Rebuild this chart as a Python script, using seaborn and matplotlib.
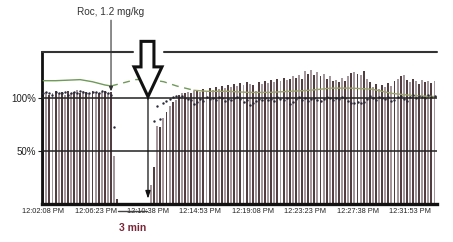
import numpy as np
import pandas as pd
import matplotlib
matplotlib.use("Agg")
import matplotlib.pyplot as plt
from matplotlib.patches import Polygon
import seaborn as sns

# ---------------- data ----------------
interval_s = 15
seg1_start = 0
seg1_height = [104, 105, 103, 104, 106, 104, 105, 103, 106, 104, 105, 107, 104, 106,
               105, 104, 106, 105, 104, 105, 106, 104, 105, 45, 5]
seg1_ratio = [104, 105, 104, 103, 105, 104, 104, 105, 103, 104, 105, 104, 106, 105,
              104, 104, 105, 105, 104, 106, 105, 104, 103, 72, np.nan]
seg2_start = 35
seg2_height = [18, 35, 73, 72, 81, 87, 92, 96, 98, 103, 104, 104, 105, 104, 106, 107,
               105, 108, 106, 109, 107, 110, 108, 111, 109, 112, 110, 113, 111, 114,
               112, 115, 113, 112, 106, 115, 113, 116, 114, 117, 115, 118, 116, 119,
               117, 118, 120, 119, 121, 118, 125, 122, 126, 121, 124, 120, 122, 118,
               120, 116, 117, 115, 119, 116, 120, 123, 124, 122, 121, 125, 118, 115,
               110, 113, 108, 112, 110, 114, 111, 116, 118, 120, 121, 117, 115, 118,
               116, 113, 117, 115, 116, 114, 116]
seg2_ratio = [np.nan, 78, 92, 80, 95, 97, 99, 101, 102, 101, 102, 100, 99, 98, 94, 96,
              99, 97, 101, 99, 100, 98, 101, 100, 97, 99, 98, 100, 101, 99, 96, 98,
              93, 95, 97, 99, 98, 100, 98, 99, 97, 101, 99, 98, 100, 94, 96, 99, 101,
              98, 100, 97, 99, 100, 98, 97, 99, 101, 100, 98, 100, 99, 101, 100, 97,
              95, 95, 96, 95, 96, 99, 102, 100, 98, 101, 100, 99, 101, 97, 98, 101,
              102, 99, 97, 101, 103, 100, 102, 101, 100, 103, 101, 102]

# green trend (time in s from 12:02:08, value in %)
trend1_t = [0, 60, 120, 180, 240, 300, 330]
trend1_v = [116, 116, 116.5, 117, 115, 112, 111]
trend2_t = [330, 390, 450, 510, 587, 650, 733]
trend2_v = [111, 114, 117, 117.5, 115, 111, 107]
trend3_t = [733, 800, 900, 1000, 1100, 1200, 1300, 1400, 1500, 1600, 1700, 1800, 1917]
trend3_v = [107, 106, 106, 105, 105, 106, 107, 109, 109, 108, 104, 102, 101]

tick_labels = ["12:02:08 PM", "12:06:23 PM", "12:10:38 PM", "12:14:53 PM",
               "12:19:08 PM", "12:23:23 PM", "12:27:38 PM", "12:31:53 PM"]
tick_step_s = 255

annot_text = "Roc, 1.2 mg/kg"
scale_text = "3 min"

# ---------------- build table ----------------
idx = list(range(seg1_start, seg1_start + len(seg1_height))) + \
      list(range(seg2_start, seg2_start + len(seg2_height)))
df = pd.DataFrame({
    "t": [i * interval_s for i in idx],
    "h": seg1_height + seg2_height,
    "r": seg1_ratio + seg2_ratio,
    "shade": ["d" if i % 2 == 0 else "l" for i in idx],
})

# ---------------- figure ----------------
sns.set_style("white")
plt.rcParams["font.family"] = ["Liberation Sans", "DejaVu Sans"]

fig = plt.figure(figsize=(4.53, 2.42), dpi=100)
ax = fig.add_axes([42 / 453, 1 - 204 / 242, 395 / 453, 152 / 242])

sns.barplot(data=df, x="t", y="h", hue="shade", native_scale=True, dodge=False,
            palette={"d": "#55393f", "l": "#a8939b"}, width=0.62,
            errorbar=None, legend=False, ax=ax, zorder=2, linewidth=0)

sns.lineplot(x=trend1_t, y=trend1_v, color="#6f9a58", lw=1.0, ax=ax, zorder=3)
sns.lineplot(x=trend2_t, y=trend2_v, color="#6f9a58", lw=1.0, ax=ax, zorder=3,
             linestyle=(0, (5, 4)))
sns.lineplot(x=trend3_t, y=trend3_v, color="#9aa36a", lw=1.0, ax=ax, zorder=3)

sns.scatterplot(data=df, x="t", y="r", color="#2a2a3a", s=3, linewidth=0,
                ax=ax, zorder=4)

ax.set_xlim(-6, 1917)
ax.set_ylim(0, 143)

for yv in (50, 100):
    ax.axhline(yv, color="#222222", lw=1.1, zorder=5)

ax.set_yticks([50, 100])
ax.set_yticklabels(["50%", "100%"], fontsize=7)
ax.set_xticks([k * tick_step_s for k in range(len(tick_labels))])
ax.set_xticklabels(tick_labels, fontsize=5.3)
ax.tick_params(axis="x", length=0, pad=3, colors="#222222")
ax.tick_params(axis="y", length=3, width=0.8, pad=1, colors="#222222", left=True)
ax.set_xlabel("")
ax.set_ylabel("")

for s in ("top", "right"):
    ax.spines[s].set_visible(False)
ax.spines["left"].set_linewidth(2.0)
ax.spines["left"].set_color("#111111")
ax.spines["bottom"].set_linewidth(2.4)
ax.spines["bottom"].set_color("#111111")

# top frame line with gap for the arrow
gx0 = (133 - 42) / 395
gx1 = (164 - 42) / 395
for a, b in ((0, gx0), (gx1, 1.0)):
    ax.plot([a, b], [1, 1], transform=ax.transAxes, color="#333333", lw=1.5,
            clip_on=False, zorder=6)

# Roc annotation
ax.annotate(annot_text, xy=(330, 106), xytext=(330, 176), fontsize=7.2,
            ha="center", va="bottom", color="#333333", annotation_clip=False,
            arrowprops=dict(arrowstyle="-|>,head_length=0.35,head_width=0.15",
                            color="#333333", lw=0.8, shrinkA=0, shrinkB=0),
            zorder=7)

# hollow block arrow
tip_t = 510
arrow = Polygon([(476, 153), (539, 153), (539, 129), (578, 129), (tip_t, 101),
                 (442, 129), (476, 129)], closed=True, facecolor="white",
                edgecolor="#111111", lw=2.2, clip_on=False, zorder=8)
ax.add_patch(arrow)

# thin arrow to the bottom
ax.annotate("", xy=(tip_t, 5), xytext=(tip_t, 101), annotation_clip=False,
            arrowprops=dict(arrowstyle="-|>,head_length=0.45,head_width=0.15",
                            color="#111111", lw=0.9, shrinkA=0, shrinkB=0),
            zorder=7)

# 3 min scale bar
fig.add_artist(plt.Line2D([118 / 453, 147 / 453], [1 - 211 / 242, 1 - 211 / 242],
                          color="#444444", lw=1.0))
fig.text(133 / 453, 1 - 228 / 242, scale_text, ha="center", va="center",
         fontsize=7.5, color="#7a2638", fontweight="bold")

fig.savefig("out.png", dpi=100)
